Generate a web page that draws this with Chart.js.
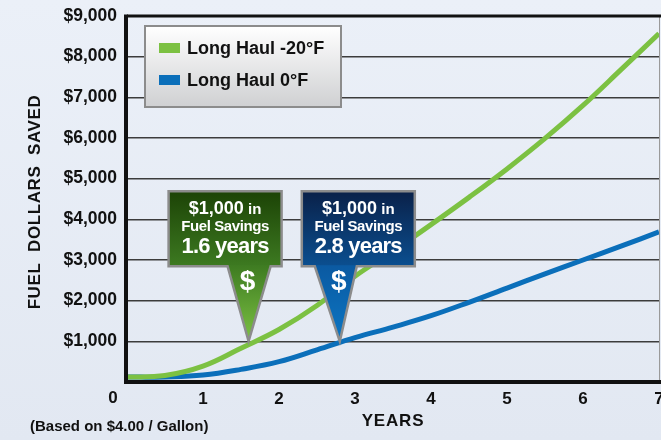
<!DOCTYPE html>
<html>
<head>
<meta charset="utf-8">
<script src="https://cdn.jsdelivr.net/npm/chart.js@4.4.0/dist/chart.umd.min.js"></script>
<style>
  html, body { margin: 0; padding: 0; overflow: hidden; background: #e7edf6; }
  canvas { display: block; }
</style>
</head>
<body>
<canvas id="fuelChart" width="661" height="440"></canvas>
<script>
// data
const years = [0, 0.5, 1, 1.5, 2, 2.5, 3, 3.5, 4, 4.5, 5, 5.5, 6, 6.5, 7];
const coldSavings = [120, 160, 390, 830, 1290, 1880, 2600, 3220, 3870, 4540, 5240, 5990, 6800, 7680, 8570];
const mildSavings = [120, 125, 170, 310, 500, 790, 1090, 1350, 1630, 1960, 2310, 2660, 3000, 3340, 3690];
const seriesLabels = ["Long Haul -20°F", "Long Haul 0°F"];
const seriesColors = ["#7cc142", "#0b6fba"];
const yMax = 9000;
const yStep = 1000;
const xMax = 7;

const calloutYears = [1.6, 2.8];
const calloutValue = 1000;
const calloutTitle = "$1,000";
const calloutSub = "Fuel Savings";
const calloutYearText = ["1.6 years", "2.8 years"];

const FONT = "'Liberation Sans', Arial, sans-serif";

// styling for the two callouts
const calloutStyle = [
  { shift: -80, pl: -21, pr: 22, box: ["#1c4306", "#3d7a21"], tip: ["#3f7c22", "#7cc243"] },
  { shift: -38, pl: -25, pr: 17, box: ["#0a2149", "#0b4f90"], tip: ["#0b5aa2", "#0b76c3"] }
];

function drawCallout(ctx, tipX, tipY, st, yearText) {
  const w = 113, h = 75;
  const left = tipX + st.shift;
  const top = tipY - 150;
  const bottom = top + h;

  let g = ctx.createLinearGradient(0, top, 0, bottom);
  g.addColorStop(0, st.box[0]);
  g.addColorStop(1, st.box[1]);
  ctx.fillStyle = g;
  ctx.fillRect(left, top, w, h);

  g = ctx.createLinearGradient(0, bottom, 0, tipY);
  g.addColorStop(0, st.tip[0]);
  g.addColorStop(1, st.tip[1]);
  ctx.fillStyle = g;
  ctx.beginPath();
  ctx.moveTo(tipX + st.pl, bottom - 1);
  ctx.lineTo(tipX + st.pr, bottom - 1);
  ctx.lineTo(tipX, tipY);
  ctx.closePath();
  ctx.fill();

  ctx.strokeStyle = "#8c8c8c";
  ctx.lineWidth = 2.5;
  ctx.lineJoin = "miter";
  ctx.beginPath();
  ctx.moveTo(left, top);
  ctx.lineTo(left + w, top);
  ctx.lineTo(left + w, bottom);
  ctx.lineTo(tipX + st.pr, bottom);
  ctx.lineTo(tipX, tipY);
  ctx.lineTo(tipX + st.pl, bottom);
  ctx.lineTo(left, bottom);
  ctx.closePath();
  ctx.stroke();

  const cx = left + w / 2;
  ctx.fillStyle = "#ffffff";
  ctx.textBaseline = "middle";
  ctx.textAlign = "left";
  ctx.font = "bold 18px " + FONT;
  const w1 = ctx.measureText(calloutTitle).width;
  ctx.font = "bold 15px " + FONT;
  const w2 = ctx.measureText(" in").width;
  let x0 = cx - (w1 + w2) / 2;
  ctx.font = "bold 18px " + FONT;
  ctx.fillText(calloutTitle, x0, top + 18);
  ctx.font = "bold 15px " + FONT;
  ctx.fillText(" in", x0 + w1, top + 19);

  ctx.textAlign = "center";
  ctx.letterSpacing = "-0.4px";
  ctx.font = "bold 15px " + FONT;
  ctx.fillText(calloutSub, cx, top + 36);
  ctx.letterSpacing = "-0.8px";
  ctx.font = "bold 22px " + FONT;
  ctx.fillText(yearText, cx, top + 56);
  ctx.letterSpacing = "0px";
  ctx.font = "bold 28px " + FONT;
  ctx.fillText("$", tipX - 1, tipY - 59);
}

const decorPlugin = {
  id: "decor",
  beforeDraw(chart) {
    const ctx = chart.ctx;
    const g = ctx.createLinearGradient(0, 0, 0, chart.height);
    g.addColorStop(0, "#ebf0f8");
    g.addColorStop(1, "#e2e8f2");
    ctx.save();
    ctx.fillStyle = g;
    ctx.fillRect(0, 0, chart.width, chart.height);
    ctx.restore();
  },
  afterDatasetsDraw(chart) {
    const ctx = chart.ctx;
    const a = chart.chartArea;
    const xs = chart.scales.x, ys = chart.scales.y;
    ctx.save();

    // frame
    ctx.strokeStyle = "#9a9a9a";
    ctx.lineWidth = 1;
    ctx.beginPath();
    ctx.moveTo(a.right + 0.5, a.top);
    ctx.lineTo(a.right + 0.5, a.bottom);
    ctx.stroke();
    ctx.strokeStyle = "#111";
    ctx.lineWidth = 3;
    ctx.beginPath();
    ctx.moveTo(a.left, a.top);
    ctx.lineTo(a.right + 2, a.top);
    ctx.stroke();
    ctx.lineWidth = 4;
    ctx.beginPath();
    ctx.moveTo(a.left - 1, a.top - 1.5);
    ctx.lineTo(a.left - 1, a.bottom);
    ctx.lineTo(a.right + 2, a.bottom);
    ctx.stroke();

    // axis texts
    ctx.fillStyle = "#111";
    ctx.textBaseline = "middle";
    ctx.textAlign = "center";
    ctx.font = "bold 17px " + FONT;
    ctx.fillText("0", a.left - 14, a.bottom + 16);
    ctx.letterSpacing = "0.8px";
    ctx.fillText("YEARS", 393, 421);
    ctx.save();
    ctx.translate(35, 202);
    ctx.rotate(-Math.PI / 2);
    ctx.letterSpacing = "0.6px";
    ctx.fillText("FUEL  DOLLARS  SAVED", 0, 0);
    ctx.restore();
    ctx.letterSpacing = "0px";
    ctx.textAlign = "left";
    ctx.font = "bold 15px " + FONT;
    ctx.fillText("(Based on $4.00 / Gallon)", 30, 427);

    // callouts
    calloutYears.forEach((yr, i) => {
      drawCallout(ctx, xs.getPixelForValue(yr), ys.getPixelForValue(calloutValue), calloutStyle[i], calloutYearText[i]);
    });

    // legend
    const lx = a.left + 18, ly = a.top + 10, lw = 196, lh = 81;
    const lg = ctx.createLinearGradient(0, ly, 0, ly + lh);
    lg.addColorStop(0, "#ffffff");
    lg.addColorStop(1, "#cfd0d2");
    ctx.fillStyle = lg;
    ctx.fillRect(lx, ly, lw, lh);
    ctx.strokeStyle = "#8c8c8c";
    ctx.lineWidth = 2;
    ctx.strokeRect(lx, ly, lw, lh);
    ctx.textAlign = "left";
    ctx.textBaseline = "middle";
    chart.data.datasets.forEach((ds, i) => {
      const cy = ly + 22 + i * 32;
      ctx.fillStyle = ds.borderColor;
      ctx.fillRect(lx + 14, cy - 5, 21, 10);
      ctx.fillStyle = "#111";
      ctx.font = "bold 18px " + FONT;
      ctx.fillText(ds.label, lx + 42, cy + 1);
    });

    ctx.restore();
  }
};

new Chart(document.getElementById("fuelChart"), {
  type: "line",
  data: {
    datasets: [
      { label: seriesLabels[0], data: years.map((x, i) => ({ x: x, y: coldSavings[i] })),
        borderColor: seriesColors[0], borderWidth: 5, pointRadius: 0, fill: false, tension: 0.4 },
      { label: seriesLabels[1], data: years.map((x, i) => ({ x: x, y: mildSavings[i] })),
        borderColor: seriesColors[1], borderWidth: 5, pointRadius: 0, fill: false, tension: 0.4 }
    ]
  },
  options: {
    responsive: false,
    animation: false,
    layout: { padding: { top: 16, right: 2, left: 0, bottom: 0 } },
    plugins: { legend: { display: false }, tooltip: { enabled: false } },
    scales: {
      x: {
        type: "linear", min: 0, max: xMax,
        grid: { display: false },
        border: { display: false },
        ticks: {
          stepSize: 1, padding: -1, color: "#111",
          font: { family: FONT, size: 17, weight: "bold" },
          callback: (v) => (v === 0 ? "" : v)
        },
        afterFit: (s) => { s.height = 58; s.paddingLeft = 0; s.paddingRight = 0; }
      },
      y: {
        min: 0, max: yMax,
        grid: { color: "#3c3c3c", lineWidth: 1.5, drawTicks: false },
        border: { display: false },
        ticks: {
          stepSize: yStep, padding: 10, color: "#111",
          font: { family: FONT, size: 17.5, weight: "bold" },
          callback: (v) => (v === 0 ? "" : "$" + v.toLocaleString("en-US"))
        },
        afterFit: (s) => { s.width = 127; s.paddingTop = 0; s.paddingBottom = 0; }
      }
    }
  },
  plugins: [decorPlugin]
});
</script>
</body>
</html>
